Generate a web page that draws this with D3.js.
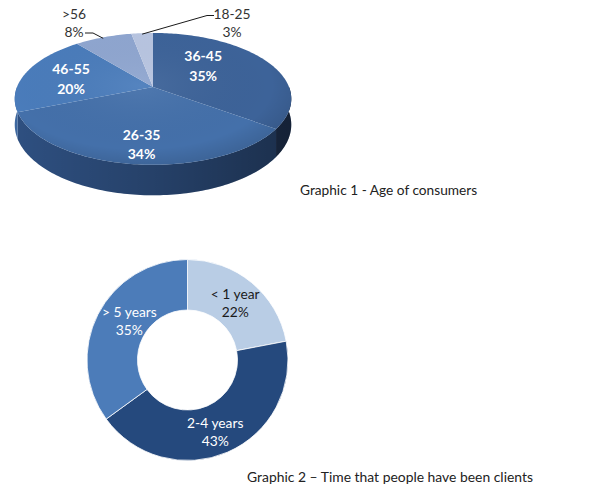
<!DOCTYPE html>
<html>
<head>
<meta charset="utf-8">
<script src="https://cdn.jsdelivr.net/npm/d3@7"></script>
<style>
  body { margin: 0; background: #fff; }
  text { font-family: Lato, "Open Sans", sans-serif; }
</style>
</head>
<body>
<div id="chart"></div>
<script>
// Graphic 1 - age of consumers (clockwise from 12 o'clock)
var age_groups = ['36-45', '26-35', '46-55', '>56', '18-25'];
var age_pct = [35, 34, 20, 8, 3];
var age_top = ['#3d6399', '#4470aa', '#4a7cbb', '#8fa6d0', '#b8c5e1'];
var age_side = ['#243a5e', '#2f5183', '#3f6aa3', '#6f86ad', '#95a5c4'];

// Graphic 2 - time as clients
var client_groups = ['< 1 year', '2-4 years', '> 5 years'];
var client_pct = [22, 43, 35];
var client_colors = ['#b9cde5', '#25497d', '#4c7cb9'];
var client_text = ['#1a1a1a', '#ffffff', '#ffffff'];

var width = 610;
var height = 496;

var svg = d3.select('#chart')
    .append('svg')
    .attr('width', width)
    .attr('height', height);

// ---- 3D pie ----
var cx = 153, cy = 87, rx = 136, ry = 63.8, persp = 0.18, depth = 25;

function proj(a, r, h) {
    var u = r * Math.sin(a), v = r * Math.cos(a);
    var s = 1 + persp * v;
    return [cx + rx * u / s, cy - ry * v / s + depth * h / s];
}

function rim(a0, a1, h) {
    var pts = [];
    var n = Math.max(2, Math.ceil(Math.abs(a1 - a0) / 0.02));
    for (var i = 0; i <= n; i++) {
        pts.push(proj(a0 + (a1 - a0) * i / n, 1, h));
    }
    return pts;
}

var line = d3.line();

var pie = d3.pie().sort(null).value(function(d) { return d; });
var age_arcs = pie(age_pct);

var defs = svg.append('defs');

var wall_shade = defs.append('linearGradient')
    .attr('id', 'wallShade')
    .attr('x1', 0).attr('x2', 1).attr('y1', 0).attr('y2', 0);
wall_shade.append('stop').attr('offset', '0%').attr('stop-color', '#000').attr('stop-opacity', 0.02);
wall_shade.append('stop').attr('offset', '50%').attr('stop-color', '#000').attr('stop-opacity', 0.2);
wall_shade.append('stop').attr('offset', '100%').attr('stop-color', '#000').attr('stop-opacity', 0.42);

var top_shade = defs.append('radialGradient')
    .attr('id', 'topShade')
    .attr('cx', '45%').attr('cy', '40%').attr('r', '60%');
top_shade.append('stop').attr('offset', '0%').attr('stop-color', '#fff').attr('stop-opacity', 0.06);
top_shade.append('stop').attr('offset', '80%').attr('stop-color', '#000').attr('stop-opacity', 0.0);
top_shade.append('stop').attr('offset', '100%').attr('stop-color', '#000').attr('stop-opacity', 0.1);

var pie3d = svg.append('g');

// Side walls (front half only)
var lo = Math.PI / 2, hi = Math.PI * 3 / 2;
age_arcs.forEach(function(d, i) {
    var a0 = Math.max(d.startAngle, lo), a1 = Math.min(d.endAngle, hi);
    if (a1 <= a0) return;
    var pts = rim(a0, a1, 0).concat(rim(a1, a0, 1));
    pie3d.append('path')
        .attr('d', line(pts) + 'Z')
        .attr('fill', age_side[i]);
});
var wall_pts = rim(lo, hi, 0).concat(rim(hi, lo, 1));
pie3d.append('path')
    .attr('d', line(wall_pts) + 'Z')
    .attr('fill', 'url(#wallShade)');

// Top faces
age_arcs.forEach(function(d, i) {
    var pts = [proj(0, 0, 0)].concat(rim(d.startAngle, d.endAngle, 0));
    pie3d.append('path')
        .attr('d', line(pts) + 'Z')
        .attr('fill', age_top[i]);
});
pie3d.append('path')
    .attr('d', line(rim(0, Math.PI * 2, 0)) + 'Z')
    .attr('fill', 'url(#topShade)');

// Labels inside the slices
var inside_r = [0.55, 0.76, 0.64];
var inside_shift = [-0.3, -0.03, 0];
age_arcs.slice(0, 3).forEach(function(d, i) {
    var mid = (d.startAngle + d.endAngle) / 2 + inside_shift[i];
    var p = proj(mid, inside_r[i], 0);
    var t = pie3d.append('text')
        .attr('x', p[0])
        .attr('y', p[1] - 3)
        .attr('text-anchor', 'middle')
        .attr('font-size', 14)
        .attr('font-weight', 'bold')
        .attr('fill', '#ffffff');
    t.append('tspan').attr('x', p[0]).text(age_groups[i]);
    t.append('tspan').attr('x', p[0]).attr('dy', 19.5).text(age_pct[i] + '%');
});

// Outside labels with leader lines
var outside = [
    { i: 3, lx: 74, elbow: [[85, 33], [93, 33]] },
    { i: 4, lx: 232, elbow: [[214, 15.5], [207, 15.5]] }
];
outside.forEach(function(o) {
    var d = age_arcs[o.i];
    var p = proj((d.startAngle + d.endAngle) / 2, 1, 0);
    pie3d.append('path')
        .attr('d', line(o.elbow.concat([[p[0], p[1] + 1]])))
        .attr('fill', 'none')
        .attr('stroke', '#1a1a1a')
        .attr('stroke-width', 1);
    var t = pie3d.append('text')
        .attr('x', o.lx)
        .attr('y', 19)
        .attr('text-anchor', 'middle')
        .attr('font-size', 13.8)
        .attr('fill', '#333333');
    t.append('tspan').attr('x', o.lx).text(age_groups[o.i]);
    t.append('tspan').attr('x', o.lx).attr('dy', 18).text(age_pct[o.i] + '%');
});

svg.append('text')
    .attr('x', 300)
    .attr('y', 195)
    .attr('font-size', 13.7)
    .attr('fill', '#222222')
    .text('Graphic 1 - Age of consumers');

// ---- Donut ----
var donut = svg.append('g')
    .attr('transform', 'translate(187.5,360)');

var arc = d3.arc()
    .innerRadius(50)
    .outerRadius(100.5);

var client_arcs = pie(client_pct);

donut.selectAll('path')
    .data(client_arcs)
    .enter()
    .append('path')
    .attr('d', arc)
    .attr('fill', function(d, i) { return client_colors[i]; })
    .attr('stroke', '#ffffff')
    .attr('stroke-width', 0.8);

var label_r = [74, 77, 70];
var label_shift = [0.01, 0.04, 0.12];

client_arcs.forEach(function(d, i) {
    var a = (d.startAngle + d.endAngle) / 2 + label_shift[i];
    var c = [label_r[i] * Math.sin(a), -label_r[i] * Math.cos(a)];
    var t = donut.append('text')
        .attr('x', c[0])
        .attr('y', c[1] - 4)
        .attr('text-anchor', 'middle')
        .attr('font-size', 13.8)
        .attr('fill', client_text[i]);
    t.append('tspan').attr('x', c[0]).text(client_groups[i]);
    t.append('tspan').attr('x', c[0]).attr('dy', 18).text(client_pct[i] + '%');
});

svg.append('text')
    .attr('x', 247)
    .attr('y', 482)
    .attr('font-size', 13.9)
    .attr('fill', '#222222')
    .text('Graphic 2 \u2013 Time that people have been clients');
</script>
</body>
</html>
